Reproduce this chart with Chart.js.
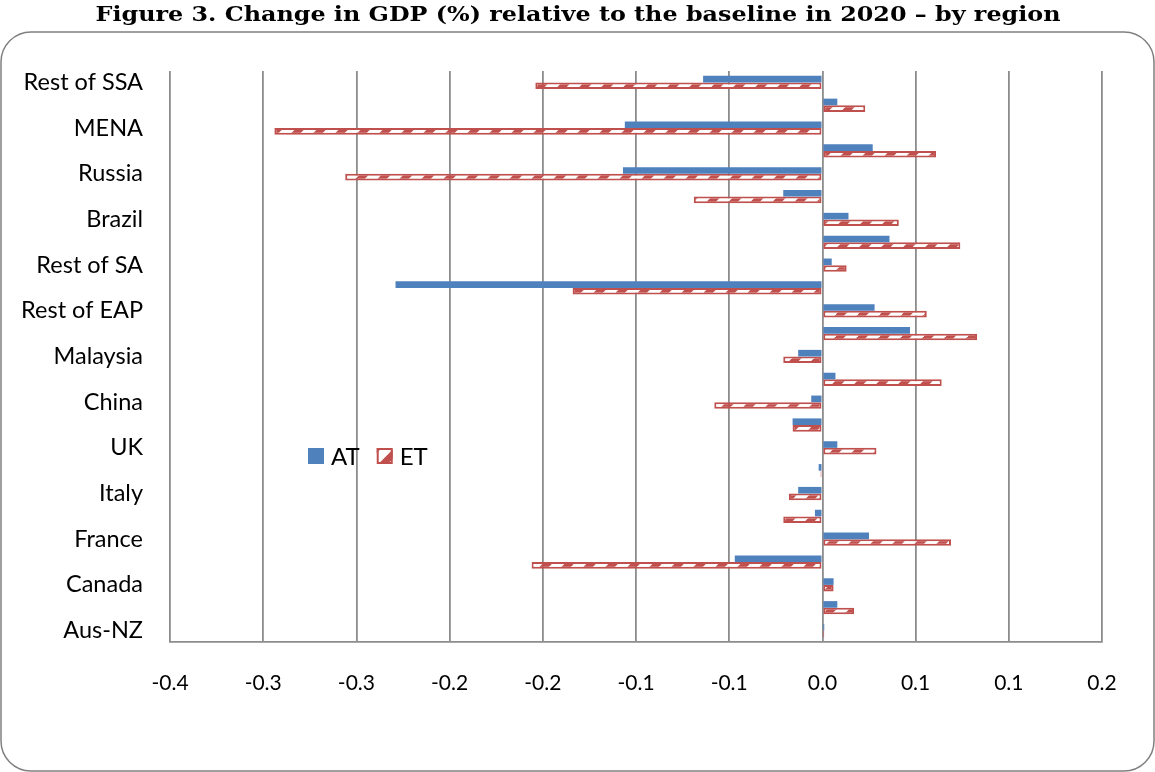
<!DOCTYPE html>
<html>
<head>
<meta charset="utf-8">
<script src="https://cdn.jsdelivr.net/npm/chart.js@4.4.1/dist/chart.umd.min.js"></script>
<style>
  html, body { margin: 0; padding: 0; background: #ffffff; }
  #wrap { width: 1155px; height: 772px; position: relative; }
</style>
</head>
<body>
<div id="wrap"><canvas id="c" width="1155" height="772"></canvas></div>
<script>
// Regions, listed top to bottom; only every other name is printed on the axis
const regions = [
  'Rest of SSA', 'South Africa', 'MENA', 'Rest of Europe', 'Russia',
  'Rest of LAC', 'Brazil', 'India', 'Rest of SA', 'Indonesia',
  'Rest of EAP', 'Thailand', 'Malaysia', 'Japan', 'China',
  'Rest of EU', 'UK', 'Spain', 'Italy', 'Germany',
  'France', 'USA', 'Canada', 'Mexico', 'Aus-NZ'
];

// Change in GDP (%) relative to the baseline in 2020
const atValues = [
  -0.064, 0.008, -0.106, 0.027, -0.107,
  -0.021, 0.014, 0.036, 0.005, -0.229,
  0.028, 0.047, -0.013, 0.007, -0.006,
  -0.016, 0.008, -0.002, -0.013, -0.004,
  0.025, -0.047, 0.006, 0.008, 0.001
];
const etValues = [
  -0.154, 0.023, -0.294, 0.061, -0.256,
  -0.069, 0.041, 0.074, 0.013, -0.134,
  0.056, 0.083, -0.021, 0.064, -0.058,
  -0.016, 0.029, -0.001, -0.018, -0.021,
  0.069, -0.156, 0.006, 0.017, 0.001
];

// Axis labels as printed (one decimal place)
const xTickLabels = ['-0.4', '-0.3', '-0.3', '-0.2', '-0.2', '-0.1', '-0.1', '0.0', '0.1', '0.1', '0.2'];

const chartTitle = 'Figure 3. Change in GDP (%) relative to the baseline in 2020 \u2013 by region';

const BLUE = '#4F81BD';
const RED = '#C0504D';
const GRID = '#8c8c8c';
const LABEL_FONT = 'Lato';

// Upward diagonal hatch used for the ET bars
function makeHatch() {
  const p = 22;
  const c = document.createElement('canvas');
  c.width = p; c.height = p;
  const g = c.getContext('2d');
  g.fillStyle = RED;
  g.fillRect(0, 0, p, p);
  g.strokeStyle = '#ffffff';
  g.lineWidth = 9;
  for (const k of [0, p, 2 * p]) {
    g.beginPath();
    g.moveTo(k + 6, -6);
    g.lineTo(-6, k + 6);
    g.stroke();
  }
  return g.createPattern(c, 'repeat');
}
const hatch = makeHatch();

// Frame and heading around the plot
const framePlugin = {
  id: 'frame',
  beforeDraw(chart) {
    const ctx = chart.ctx;
    ctx.save();
    ctx.fillStyle = '#ffffff';
    ctx.fillRect(0, 0, chart.width, chart.height);
    // rounded outline
    const x0 = 1, y0 = 32, x1 = 1154, y1 = 771, r = 30;
    ctx.beginPath();
    ctx.moveTo(x0 + r, y0);
    ctx.lineTo(x1 - r, y0);
    ctx.arcTo(x1, y0, x1, y0 + r, r);
    ctx.lineTo(x1, y1 - r);
    ctx.arcTo(x1, y1, x1 - r, y1, r);
    ctx.lineTo(x0 + r, y1);
    ctx.arcTo(x0, y1, x0, y1 - r, r);
    ctx.lineTo(x0, y0 + r);
    ctx.arcTo(x0, y0, x0 + r, y0, r);
    ctx.closePath();
    ctx.strokeStyle = '#808080';
    ctx.lineWidth = 1.5;
    ctx.stroke();
    // heading
    ctx.font = 'bold 20px "DejaVu Serif"';
    const w = ctx.measureText(chartTitle).width;
    const sx = 965 / w;
    ctx.translate(578, 21);
    ctx.scale(sx, 1);
    ctx.fillStyle = '#000000';
    ctx.textAlign = 'center';
    ctx.textBaseline = 'alphabetic';
    ctx.fillText(chartTitle, 0, 0);
    ctx.restore();
  }
};

// Legend drawn inside the plot area
const inlineLegend = {
  id: 'inlineLegend',
  afterDatasetsDraw(chart) {
    const ctx = chart.ctx;
    const ds = chart.data.datasets;
    ctx.save();
    ctx.font = '24px ' + LABEL_FONT;
    ctx.textBaseline = 'middle';
    ctx.textAlign = 'left';
    let x = 308;
    const y = 456;
    ds.forEach((d, i) => {
      ctx.fillStyle = d.backgroundColor;
      ctx.fillRect(x, y - 8, 16, 16);
      if (d.borderWidth) {
        ctx.strokeStyle = d.borderColor;
        ctx.lineWidth = 2;
        ctx.strokeRect(x + 1, y - 7, 14, 14);
      }
      ctx.fillStyle = '#000000';
      ctx.fillText(d.label, x + 23, y + 1);
      x += 23 + ctx.measureText(d.label).width + 17;
    });
    ctx.restore();
  }
};

new Chart(document.getElementById('c'), {
  type: 'bar',
  data: {
    labels: regions,
    datasets: [
      {
        label: 'AT',
        data: atValues,
        backgroundColor: BLUE,
        borderWidth: 0
      },
      {
        label: 'ET',
        data: etValues,
        backgroundColor: hatch,
        borderColor: RED,
        borderWidth: 2,
        borderSkipped: false
      }
    ]
  },
  options: {
    indexAxis: 'y',
    responsive: false,
    animation: false,
    devicePixelRatio: 1,
    layout: { padding: { left: 0, right: 53, top: 71, bottom: 0 } },
    datasets: {
      bar: { categoryPercentage: 0.58, barPercentage: 1.0 }
    },
    plugins: {
      legend: { display: false },
      title: { display: false },
      tooltip: { enabled: false }
    },
    scales: {
      x: {
        min: -0.35,
        max: 0.15,
        afterFit(scale) { scale.height = 130; },
        ticks: {
          stepSize: 0.05,
          padding: 29,
          color: '#000000',
          font: { family: LABEL_FONT, size: 21 },
          callback: (v, i) => xTickLabels[i]
        },
        grid: {
          color: GRID,
          lineWidth: 1.8,
          drawTicks: false
        },
        border: { color: GRID, width: 1.8 }
      },
      y: {
        afterFit(scale) { scale.width = 170; },
        ticks: {
          autoSkip: false,
          padding: 27,
          color: '#000000',
          font: { family: LABEL_FONT, size: 23.5 },
          callback: (v, i) => (i % 2 === 0 ? regions[i] : '')
        },
        grid: { display: false, drawTicks: false },
        border: { display: false }
      }
    }
  },
  plugins: [framePlugin, inlineLegend]
});
</script>
</body>
</html>
